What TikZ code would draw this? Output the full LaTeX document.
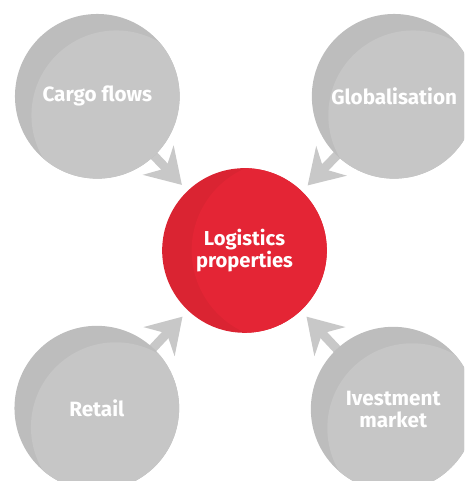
\documentclass[tikz,border=0pt]{standalone}
\usepackage{fontspec}
\setmainfont{Fira Sans}
\usetikzlibrary{arrows.meta, backgrounds}
\definecolor{bubbledark}{RGB}{189,189,189}
\definecolor{bubblelight}{RGB}{198,198,198}
\definecolor{flowgray}{RGB}{200,200,200}
\definecolor{hubdark}{RGB}{218,36,50}
\definecolor{hublight}{RGB}{228,37,53}
\tikzset{
    bubble/.style={circle, fill=bubbledark, minimum size=3.3cm, inner sep=0pt, align=center, text=white, font=\bfseries\fontsize{11.8}{12.4}\selectfont,
        path picture={\fill[bubblelight] ([shift={(0.38,-0.38)}]path picture bounding box.center) circle (1.7cm);}},
    hubstyle/.style={circle, fill=hubdark, minimum size=3.3cm, inner sep=0pt, align=center, text=white, font=\bfseries\fontsize{11.5}{11.8}\selectfont,
        path picture={\fill[hublight] ([shift={(0.74,0)}]path picture bounding box.center) circle (1.8cm);}},
    flow/.style={-{Stealth[length=0.68cm, width=0.84cm, inset=0.22cm]}, line width=0.18cm, color=flowgray, shorten >=0.16cm}
}
\begin{document}
\begin{tikzpicture}
            \clip (-4.9,-4.62) rectangle (4.4,5.02);

            % Centre and the four drivers around it
            \node[hubstyle] (hub) at (0,0) {Logistics\\properties};
            \node[bubble] (cargo) at (-2.95,3.09) {Cargo flows};
            \node[bubble] (global) at (3.0,3.09) {Globalisation};
            \node[bubble] (retail) at (-2.96,-3.16) {Retail};
            \node[bubble] (invest) at (2.98,-3.18) {Ivestment\\market};

            % Arrows pointing in, kept behind the circles
            \begin{pgfonlayer}{background}
                \draw[flow] (cargo.center) -- (hub);
                \draw[flow] (global.center) -- (hub);
                \draw[flow] (retail.center) -- (hub);
                \draw[flow] (invest.center) -- (hub);
            \end{pgfonlayer}
        \end{tikzpicture}
\end{document}
